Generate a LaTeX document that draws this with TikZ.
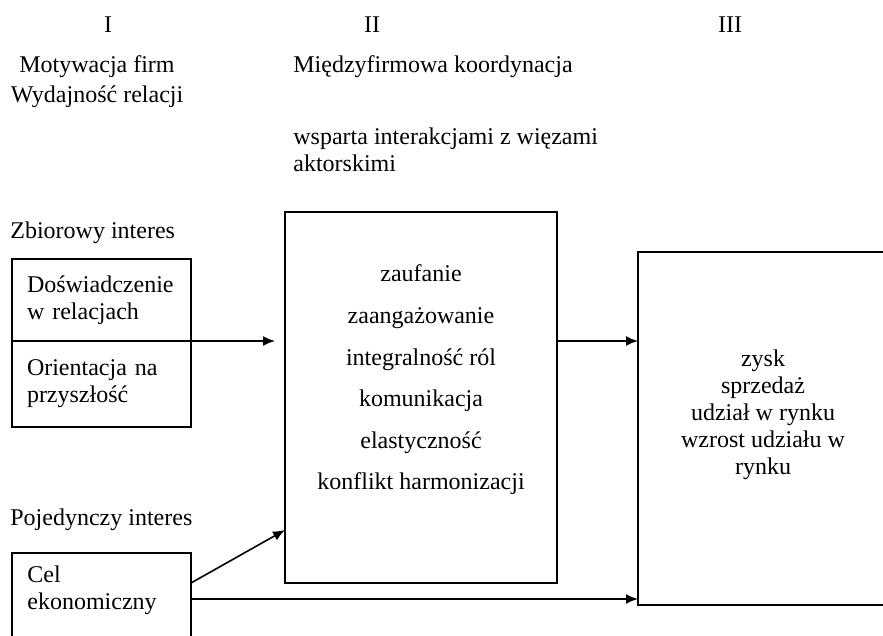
\documentclass[tikz,border=0pt]{standalone}
\usepackage{fontspec}
\setmainfont{Liberation Serif}
\usetikzlibrary{positioning,arrows.meta}

\tikzset{
  plaintext/.style = {inner sep=0pt},
  cellbox/.style   = {shape=rectangle, draw, line width=0.8pt, outer sep=0pt,
                      minimum width=89.5pt, text width=74.5pt, align=left,
                      inner xsep=7.5pt, inner ysep=0pt},
  bigbox/.style    = {shape=rectangle, draw, line width=0.8pt, outer sep=0pt}
}

\begin{document}
\begin{tikzpicture}
[
x=0.5pt, y=-0.5pt,
    link/.style       = {draw, line width=0.8pt, -{Latex[length=6pt,width=5pt]}},
    every node/.style = {font=\fontsize{12}{13.5}\selectfont}
  ]
\path[use as bounding box] (0,0) rectangle (883,636);
\clip (0,0) rectangle (883,636);

% columns
\node[plaintext] (colI)   at (108,25) {I};
\node[plaintext] (colII)  at (372,25) {II};
\node[plaintext] (colIII) at (730,25) {III};

\node[plaintext, align=center, font=\fontsize{12}{15}\selectfont] (motyw) at (97,82)
  {Motywacja firm\\Wydajność relacji};
\node[plaintext, anchor=west] (koordtxt) at (293,67) {Międzyfirmowa koordynacja};
\node[plaintext, anchor=west, align=left] (wsparta) at (293,150)
  {wsparta interakcjami z więzami\\aktorskimi};

% I
\node[plaintext, anchor=west] (zbior) at (10,233) {Zbiorowy interes};
\node[cellbox, minimum height=41pt] (doswiad) at (101.5,300) {Doświadczenie\\w relacjach};
\node[cellbox, minimum height=43pt, below=0pt of doswiad] (orient) {Orientacja na\\przyszłość};

\node[plaintext, anchor=west] (pojed) at (10,520) {Pojedynczy interes};
\node[cellbox, anchor=north west, minimum height=50pt] (cel) at (12,553) {};
\node[plaintext, anchor=west, align=left] (celtxt) at (27,590) {Cel\\ekonomiczny};

% II
\node[bigbox, minimum width=136pt, minimum height=185.5pt] (koord) at (421,397.5) {};
\node[plaintext, align=center, font=\fontsize{12}{20.8}\selectfont] (cechy) at (421,380)
  {zaufanie\\zaangażowanie\\integralność ról\\komunikacja\\elastyczność\\konflikt harmonizacji};

% III
\node[bigbox, minimum width=125pt, minimum height=176.5pt] (wynik) at (763,428.5) {};
\node[plaintext, align=center] (wyniktxt) at (763,415)
  {zysk\\sprzedaż\\udział w rynku\\wzrost udziału w\\rynku};

% arrows
\draw[link, shorten >=5pt] (doswiad.south west) -- (doswiad.south west -| koord.west);
\draw[link] (koord.east |- doswiad.south) -- (wynik.west |- doswiad.south);
\draw[link] ([yshift=-15pt]cel.north east) -- ([yshift=26.5pt]koord.south west);
\draw[link] ([yshift=-23pt]cel.north east) coordinate (celout) -- (celout -| wynik.west);
\end{tikzpicture}
\end{document}
